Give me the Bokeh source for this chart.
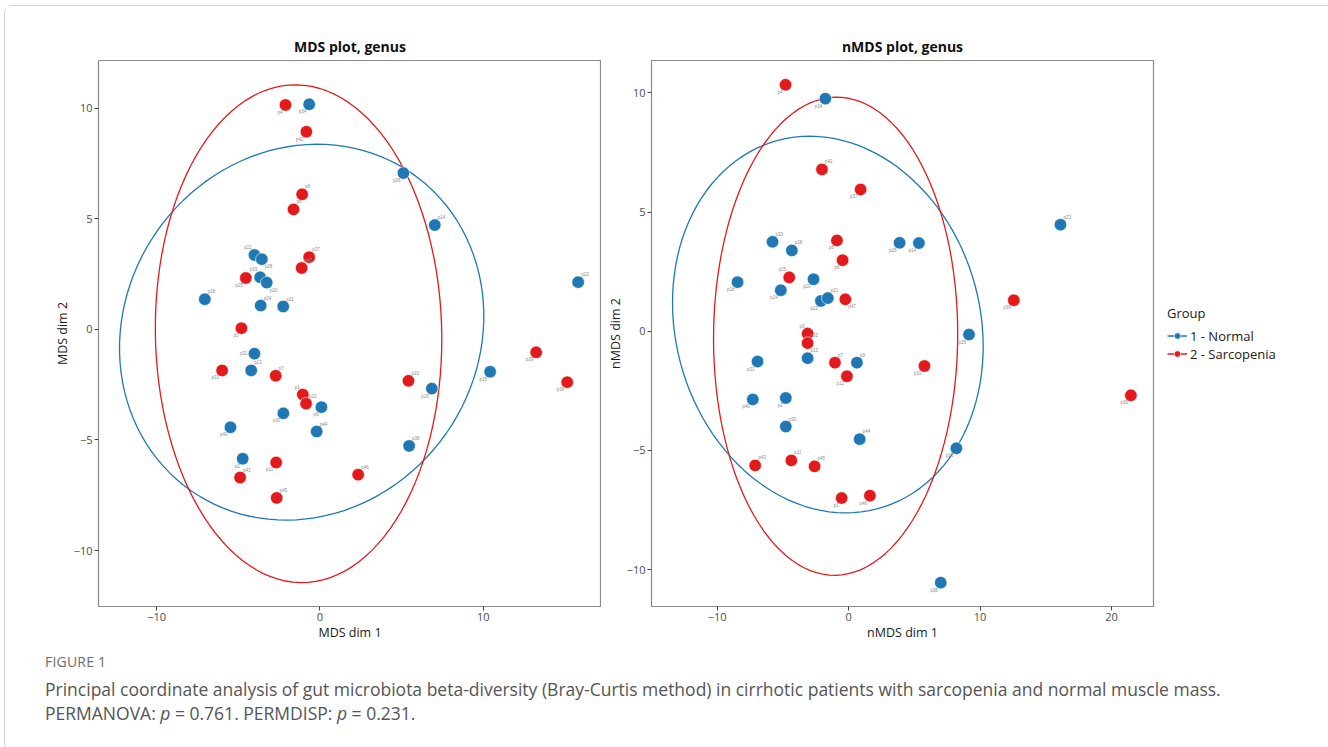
import numpy as np
from bokeh.plotting import figure
from bokeh.models import ColumnDataSource, Range1d, FixedTicker, Legend, LegendItem, Div
from bokeh.layouts import row, column
from bokeh.embed import file_html
from bokeh.resources import INLINE

# ---------------- data ----------------
groups = ["1 - Normal", "2 - Sarcopenia"]

# MDS plot (left)
mds_normal_id = ["p34", "p26", "p14", "p22", "p28", "p33", "p20", "p18", "p24", "p21", "p23",
                 "p31", "p13", "p15", "p16", "p9", "p30", "p44", "p40", "p38", "p2"]
mds_normal_x = [-0.66, 5.11, 7.03, -4.01, -3.56, -3.66, -3.26, -7.05, -3.63, -2.25, 15.81,
                -4.01, -4.21, 10.42, 6.85, 0.09, -2.24, -0.20, -5.48, 5.46, -4.73]
mds_normal_y = [10.17, 7.06, 4.71, 3.36, 3.17, 2.35, 2.11, 1.36, 1.07, 1.03, 2.13,
                -1.10, -1.86, -1.92, -2.68, -3.52, -3.80, -4.62, -4.43, -5.27, -5.85]
mds_normal_side = ["bl", "bl", "tr", "tl", "br", "tl", "br", "tr", "tr", "tr", "tr",
                   "l", "tr", "bl", "bl", "bl", "bl", "tr", "bl", "tr", "bl"]

mds_sarc_id = ["p4", "p42", "p6", "p8", "p37", "p47", "p25", "p3", "p32", "p7", "p1",
               "p12", "p10", "p39", "p36", "p11", "p43", "p45", "p46"]
mds_sarc_x = [-2.11, -0.83, -1.09, -1.62, -0.66, -1.12, -4.54, -4.81, -5.99, -2.71, -1.05,
              -0.85, 5.42, 13.24, 15.14, -2.68, -4.89, -2.65, 2.34]
mds_sarc_y = [10.14, 8.93, 6.10, 5.42, 3.26, 2.77, 2.32, 0.05, -1.86, -2.10, -2.95,
              -3.36, -2.33, -1.04, -2.39, -6.02, -6.70, -7.62, -6.57]
mds_sarc_side = ["bl", "bl", "tr", "tr", "tr", "tr", "bl", "bl", "bl", "tr", "tl",
                 "tr", "tr", "bl", "bl", "bl", "tr", "tr", "tr"]

# nMDS plot (right)
nmds_normal_id = ["p34", "p33", "p28", "p18", "p24", "p20", "p22", "p21", "p26", "p14", "p23",
                  "p15", "p31", "p13", "p9", "p40", "p2", "p30", "p44", "p16", "p38"]
nmds_normal_x = [-1.77, -5.79, -4.32, -8.45, -5.16, -2.67, -2.11, -1.58, 3.88, 5.35, 16.12,
                 9.16, -6.93, -3.12, 0.63, -7.29, -4.78, -4.78, 0.84, 8.20, 7.01]
nmds_normal_y = [9.76, 3.75, 3.39, 2.06, 1.72, 2.18, 1.27, 1.39, 3.71, 3.70, 4.47,
                 -0.14, -1.27, -1.13, -1.32, -2.86, -2.80, -4.00, -4.53, -4.91, -10.55]
nmds_normal_side = ["bl", "tr", "tr", "bl", "bl", "bl", "bl", "tr", "bl", "bl", "tr",
                    "bl", "bl", "tr", "tr", "bl", "bl", "tr", "tr", "bl", "bl"]

nmds_sarc_id = ["p4", "p42", "p37", "p8", "p6", "p25", "p47", "p3", "p32", "p7", "p12",
                "p39", "p10", "p36", "p43", "p11", "p45", "p1", "p46"]
nmds_sarc_x = [-4.80, -2.03, 0.91, -0.89, -0.46, -4.52, -0.25, -3.12, -3.12, -1.04, -0.13,
               12.57, 5.77, 21.48, -7.11, -4.36, -2.59, -0.53, 1.62]
nmds_sarc_y = [10.34, 6.79, 5.95, 3.81, 2.98, 2.26, 1.34, -0.10, -0.50, -1.32, -1.89,
               1.30, -1.46, -2.69, -5.63, -5.42, -5.67, -7.00, -6.90]
nmds_sarc_side = ["bl", "tr", "bl", "bl", "bl", "tl", "br", "tl", "tr", "tr", "bl",
                  "bl", "bl", "bl", "tr", "tr", "tr", "bl", "bl"]

# ellipse parameters: centre x, centre y, x-radius, y-radius, x-skew, y-skew
mds_ellipse_normal = [-1.12, -0.13, 11.15, 8.48, 0.30, 0.50]
mds_ellipse_sarc = [-1.31, -0.20, 8.77, 11.25, -0.12, -0.10]
nmds_ellipse_normal = [-1.58, 0.28, 11.80, 7.89, -0.70, -0.45]
nmds_ellipse_sarc = [-0.99, -0.21, 9.29, 10.03, 0.00, 0.10]

mds_xticks = [-10, 0, 10]
mds_yticks = [-10, -5, 0, 5, 10]
nmds_xticks = [-10, 0, 10, 20]
nmds_yticks = [-10, -5, 0, 5, 10]

# ---------------- style ----------------
FONT = "Open Sans"
BLUE = "#1F78B4"
RED = "#E31A1C"
FW1, FW2, FH = 503, 502, 546
TOP, BOTTOM = 54, 38
H = TOP + FH + BOTTOM

OFFS = {"bl": (-3, 5, "right", "top"), "tr": (3, -5, "left", "bottom"),
        "tl": (-3, -5, "right", "bottom"), "br": (3, 5, "left", "top"),
        "l": (-7, 0, "right", "middle")}


def ellipse(par):
    cx, cy, a, b, c, d = par
    t = np.linspace(0, 2 * np.pi, 121)
    return cx + a * np.cos(t) + c * np.sin(t), cy + d * np.cos(t) + b * np.sin(t)


def group_source(xs, ys, ids, sides):
    return ColumnDataSource(dict(
        x=xs, y=ys, id=ids,
        xo=[OFFS[s][0] for s in sides], yo=[OFFS[s][1] for s in sides],
        al=[OFFS[s][2] for s in sides], bl=[OFFS[s][3] for s in sides]))


def panel(title, xlab, ylab, xr, yr, xt, yt, normal, sarc, ell_n, ell_s, fw, mbl, mbr):
    p = figure(frame_width=fw, frame_height=FH,
               x_range=Range1d(*xr), y_range=Range1d(*yr),
               output_backend="svg", toolbar_location=None, title=title,
               min_border_left=mbl, min_border_right=mbr, min_border_top=TOP,
               min_border_bottom=BOTTOM)
    p.xgrid.visible = False
    p.ygrid.visible = False
    p.background_fill_color = "white"
    p.border_fill_color = "white"
    p.outline_line_color = "#8a8a8a"
    p.outline_line_width = 1.2
    p.title.align = "center"
    p.title.text_font = FONT
    p.title.text_font_size = "14px"
    p.title.text_font_style = "bold"
    p.title.text_color = "#111111"
    p.title.standoff = 9
    p.xaxis.ticker = FixedTicker(ticks=xt)
    p.yaxis.ticker = FixedTicker(ticks=yt)
    p.xaxis.axis_label = xlab
    p.yaxis.axis_label = ylab
    for ax in (p.xaxis[0], p.yaxis[0]):
        ax.axis_line_color = None
        ax.major_tick_line_color = "#444444"
        ax.major_tick_out = 4
        ax.major_tick_in = 0
        ax.minor_tick_line_color = None
        ax.major_label_text_font = FONT
        ax.major_label_text_font_size = "11px"
        ax.major_label_text_color = "#4d4d4d"
        ax.major_label_standoff = 2
        ax.axis_label_text_font = FONT
        ax.axis_label_text_font_size = "12.5px"
        ax.axis_label_text_font_style = "normal"
        ax.axis_label_text_color = "#1a1a1a"
        ax.axis_label_standoff = 0

    ex, ey = ellipse(ell_n)
    ln = p.line(ex, ey, line_color=BLUE, line_width=1.3)
    ex, ey = ellipse(ell_s)
    ls = p.line(ex, ey, line_color=RED, line_width=1.3)

    rends = []
    for src, col, lr in ((normal, BLUE, ln), (sarc, RED, ls)):
        sc = p.scatter("x", "y", source=src, size=12.5, fill_color=col, line_color="white",
                       line_width=0.6)
        p.text("x", "y", text="id", source=src, x_offset="xo", y_offset="yo",
               text_align="al", text_baseline="bl", text_font_size="4.5px",
               text_color="#8c8c8c")
        rends.append([lr, sc])
    return p, rends


src_mn = group_source(mds_normal_x, mds_normal_y, mds_normal_id, mds_normal_side)
src_ms = group_source(mds_sarc_x, mds_sarc_y, mds_sarc_id, mds_sarc_side)
src_nn = group_source(nmds_normal_x, nmds_normal_y, nmds_normal_id, nmds_normal_side)
src_ns = group_source(nmds_sarc_x, nmds_sarc_y, nmds_sarc_id, nmds_sarc_side)

p1, _ = panel("MDS plot, genus", "MDS dim 1", "MDS dim 2", (-13.56, 17.24), (-12.53, 12.15),
              mds_xticks, mds_yticks, src_mn, src_ms, mds_ellipse_normal, mds_ellipse_sarc,
              fw=FW1, mbl=93, mbr=0)
p2, rends = panel("nMDS plot, genus", "nMDS dim 1", "nMDS dim 2", (-15.0, 23.2), (-11.55, 11.36),
                  nmds_xticks, nmds_yticks, src_nn, src_ns, nmds_ellipse_normal,
                  nmds_ellipse_sarc, fw=FW2, mbl=50, mbr=160)

items = [LegendItem(label=lab, renderers=r) for lab, r in zip(groups, rends)]
legend = Legend(items=items, title="Group", location="center_left", orientation="vertical")
legend.border_line_color = None
legend.background_fill_alpha = 0
legend.margin = 14
legend.padding = 0
legend.spacing = 0
legend.label_height = 16
legend.glyph_height = 16
legend.glyph_width = 20
legend.label_standoff = 3
legend.title_standoff = 5
legend.title_text_font = FONT
legend.title_text_font_size = "13px"
legend.title_text_font_style = "normal"
legend.title_text_color = "#1a1a1a"
legend.label_text_font = FONT
legend.label_text_font_size = "13px"
legend.label_text_color = "#1a1a1a"
p2.add_layout(legend, "right")

caption = Div(
    text=(
        "<div style=\"font-family:'Open Sans';padding-left:35px;\">"
        "<div style=\"font-size:14px;color:#6b6b6b;letter-spacing:0.2px;line-height:16px;margin-top:5px;\">FIGURE 1</div>"
        "<div style=\"font-size:17.5px;color:#555555;line-height:24px;margin-top:7px;\">"
        "Principal coordinate analysis of gut microbiota beta-diversity (Bray-Curtis method) in cirrhotic patients "
        "with sarcopenia and normal muscle mass.<br>PERMANOVA: <i>p</i> = 0.761. PERMDISP: <i>p</i> = 0.231.</div>"
        "</div>"
    ),
    width=1316, height=97)

layout = column(row(p1, p2), caption, margin=(5, 0, 0, 4),
                styles={"border": "1px solid #d4d4d4", "border-radius": "8px"})
open("out.html", "w").write(file_html(layout, INLINE))
